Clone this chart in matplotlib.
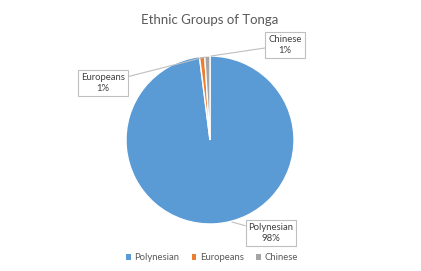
import matplotlib
matplotlib.use("Agg")
import matplotlib.pyplot as plt
from matplotlib.patches import Patch

groups = ["Polynesian", "Europeans", "Chinese"]
shares = [98, 1, 1]
colors = ["#5B9BD5", "#ED7D31", "#A5A5A5"]

plt.rcParams['font.family'] = ['Lato', 'DejaVu Sans']

fig = plt.figure(figsize=(4.21, 2.71), dpi=100)
ax = fig.add_axes([0, 0, 1, 1])

wedges, _ = ax.pie(shares, colors=colors, startangle=90, counterclock=False,
                   center=(210, 131), radius=84,
                   wedgeprops=dict(edgecolor='white', linewidth=1))
# pie() resets the limits, so set them afterwards
ax.set_xlim(0, 421)
ax.set_ylim(0, 271)
ax.set_aspect('equal')
ax.axis('off')

ax.text(210, 251, "Ethnic Groups of Tonga", ha='center', va='center',
        fontsize=9.5, color='#595959')

# data labels with leader lines
box = dict(boxstyle='square,pad=0.3', fc='white', ec='#BFBFBF', lw=0.8)
line = dict(arrowstyle='-', color='#BFBFBF', lw=0.8, shrinkA=0, shrinkB=0)
label_pos = [(271, 38), (103, 188), (285, 226)]
tips = [(232, 49), (205, 214), (211, 215)]
for name, val, pos, tip in zip(groups, shares, label_pos, tips):
    ax.annotate(f"{name}\n{val}%", xy=tip, xytext=pos, ha='center', va='center',
                fontsize=6.8, color='#404040', bbox=box, arrowprops=line,
                linespacing=1.35)

handles = [Patch(facecolor=c, edgecolor='none') for c in colors]
ax.legend(handles, groups, loc='center', bbox_to_anchor=(212 / 421, 13 / 271),
          ncol=3, frameon=False, fontsize=6.8, handlelength=0.5, handleheight=0.5,
          columnspacing=1.3, handletextpad=0.4, labelcolor='#595959')

fig.savefig("out.png", dpi=100)
